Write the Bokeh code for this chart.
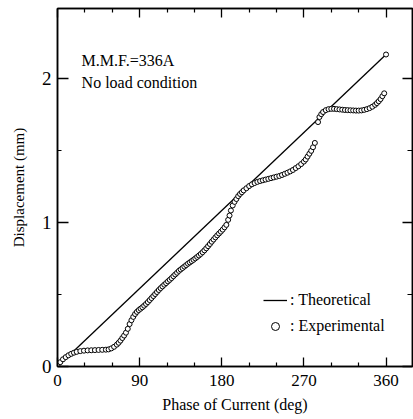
from bokeh.plotting import figure
from bokeh.models import (Range1d, FixedTicker, LinearAxis, Label, Legend,
                          LegendItem)
from bokeh.embed import file_html
from bokeh.resources import INLINE

# ---- data ----
theory_phase = [0, 360]
theory_disp = [0.0, 2.17]

exp_phase = [0, 3, 6, 9, 12, 15, 18, 21, 25, 29, 33, 37, 41, 45, 49, 53, 56, 59,
             62, 65, 67, 69, 71, 73, 75, 77, 79, 81, 83, 85, 87, 89, 91, 93, 95,
             97, 99, 101, 103, 105, 107, 109, 111, 113, 115, 117, 119, 121, 123,
             125, 127, 129, 131, 133, 135, 137, 139, 141, 143, 145, 147, 149,
             151, 153, 155, 157, 159, 161, 163, 165, 167, 169, 171, 173, 175,
             177, 179, 181, 183, 185, 187, 188.5, 190, 192, 194, 196, 198, 200,
             202, 204, 207, 210, 213, 216, 219, 222, 225, 228, 231, 234, 237,
             240, 243, 246, 249, 252, 255, 258, 261, 264, 267, 270, 272, 274,
             276, 278, 280, 282, 285.5, 287, 289, 291, 294, 297, 300, 303, 306,
             309, 312, 315, 318, 321, 324, 327, 330, 333, 336, 339, 342, 345,
             348, 350, 352, 354, 356, 358]
exp_disp = [0.01, 0.03, 0.05, 0.065, 0.078, 0.088, 0.096, 0.102, 0.107, 0.110,
            0.112, 0.113, 0.114, 0.115, 0.116, 0.117, 0.119, 0.126, 0.137,
            0.152, 0.165, 0.18, 0.198, 0.215, 0.235, 0.262, 0.295, 0.322,
            0.345, 0.365, 0.38, 0.392, 0.402, 0.412, 0.423, 0.435, 0.448,
            0.462, 0.476, 0.49, 0.504, 0.518, 0.532, 0.545, 0.557, 0.569,
            0.58, 0.592, 0.603, 0.615, 0.628, 0.64, 0.652, 0.665, 0.675,
            0.685, 0.695, 0.705, 0.715, 0.724, 0.733, 0.742, 0.752, 0.762,
            0.772, 0.783, 0.795, 0.808, 0.822, 0.837, 0.852, 0.868, 0.883,
            0.898, 0.912, 0.925, 0.938, 0.952, 0.968, 0.985, 1.02, 1.05,
            1.085, 1.12, 1.145, 1.165, 1.185, 1.20, 1.212, 1.225, 1.24, 1.255,
            1.267, 1.276, 1.284, 1.29, 1.295, 1.30, 1.305, 1.31, 1.315, 1.32,
            1.325, 1.332, 1.34, 1.348, 1.357, 1.367, 1.38, 1.393, 1.408, 1.425,
            1.44, 1.46, 1.48, 1.50, 1.525, 1.555, 1.70, 1.735, 1.755, 1.77,
            1.783, 1.79, 1.792, 1.792, 1.79, 1.788, 1.786, 1.784, 1.783, 1.782,
            1.781, 1.780, 1.780, 1.781, 1.785, 1.79, 1.797, 1.807, 1.82, 1.832,
            1.845, 1.86, 1.88, 1.90]

x_major = [0, 90, 180, 270, 360]
x_minor = [30, 60, 120, 150, 210, 240, 300, 330]
y_major = [0, 1, 2]
y_minor = [0.5, 1.5]

FONT = "'Liberation Serif', 'Times New Roman', 'DejaVu Serif', serif"

p = figure(width=413, height=419, output_backend="svg", toolbar_location=None,
           x_range=Range1d(0, 389), y_range=Range1d(0, 2.49),
           min_border_left=57, min_border_right=1, min_border_top=8,
           min_border_bottom=53, background_fill_color="white",
           border_fill_color="white")
p.xgrid.visible = False
p.ygrid.visible = False
p.outline_line_color = "black"
p.outline_line_width = 1.5

# main axes
xa = p.xaxis[0]
ya = p.yaxis[0]
xa.ticker = FixedTicker(ticks=x_major, minor_ticks=x_minor)
ya.ticker = FixedTicker(ticks=y_major, minor_ticks=y_minor)
for ax, fs in ((xa, "17px"), (ya, "19px")):
    ax.axis_line_color = "black"
    ax.axis_line_width = 1.5
    ax.major_tick_line_color = "black"
    ax.minor_tick_line_color = "black"
    ax.major_tick_line_width = 1.3
    ax.minor_tick_line_width = 1.2
    ax.major_tick_out = 0
    ax.minor_tick_out = 0
    ax.major_label_text_font = FONT
    ax.major_label_text_font_size = fs
    ax.major_label_text_color = "black"
    ax.axis_label_text_font = FONT
    ax.axis_label_text_font_style = "normal"
    ax.axis_label_text_color = "black"
xa.major_tick_in = 9
xa.minor_tick_in = 4
ya.major_tick_in = 11
ya.minor_tick_in = 4
xa.major_label_standoff = 8
ya.major_label_standoff = 6
xa.axis_label = "Phase of Current (deg)"
xa.axis_label_text_font_size = "16px"
xa.axis_label_standoff = 7
ya.axis_label = "Displacement (mm)"
ya.axis_label_text_font_size = "15px"
ya.axis_label_standoff = 12

# top and right axes (ticks only)
top = LinearAxis(ticker=FixedTicker(ticks=x_major, minor_ticks=x_minor),
                 major_label_overrides={t: "" for t in x_major})
right = LinearAxis(ticker=FixedTicker(ticks=y_major, minor_ticks=y_minor),
                   major_label_overrides={t: "" for t in y_major})
for ax in (top, right):
    ax.axis_line_color = "black"
    ax.axis_line_width = 1.5
    ax.major_tick_line_color = "black"
    ax.minor_tick_line_color = "black"
    ax.major_tick_line_width = 1.3
    ax.minor_tick_line_width = 1.2
    ax.major_tick_out = 0
    ax.minor_tick_out = 0
    ax.major_label_standoff = 0
top.major_tick_in = 9
top.minor_tick_in = 4
right.major_tick_in = 10
right.minor_tick_in = 5
p.add_layout(top, "above")
p.add_layout(right, "right")

# data
r_th = p.line(theory_phase, theory_disp, line_color="black", line_width=1.3)
p.scatter(theory_phase[-1:], theory_disp[-1:], marker="circle", size=5,
          line_color="black", fill_color="white", line_width=1)
r_ex = p.scatter(exp_phase, exp_disp, marker="circle", size=5,
                 line_color="black", fill_color="white", line_width=1)

legend = Legend(items=[LegendItem(label=": Theoretical", renderers=[r_th]),
                       LegendItem(label=": Experimental", renderers=[r_ex])],
                location=(206, 30), padding=0, margin=0, spacing=6,
                glyph_width=24, glyph_height=20, label_height=20,
                label_standoff=3, border_line_color=None,
                background_fill_alpha=0, label_text_font=FONT,
                label_text_font_size="16px", label_text_color="black")
p.add_layout(legend, "center")

# annotations
for txt, yy in (("M.M.F.=336A", 2.125), ("No load condition", 1.972)):
    p.add_layout(Label(x=26.4, y=yy, text=txt, text_font=FONT,
                       text_font_size="16px", text_baseline="middle",
                       text_align="left", text_color="black"))

open("out.html", "w").write(file_html(p, INLINE))
